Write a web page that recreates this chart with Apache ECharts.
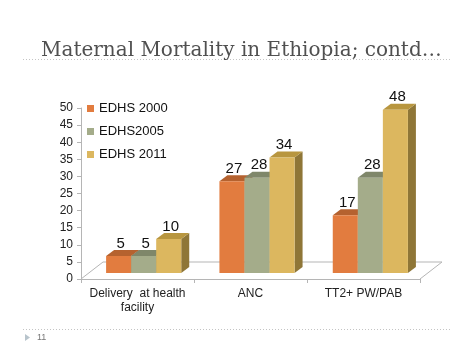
<!DOCTYPE html>
<html><head><meta charset="utf-8">
<script src="https://cdn.jsdelivr.net/npm/echarts@6/dist/echarts.min.js"></script>
<style>html,body{margin:0;padding:0;background:#fff}#c{width:474px;height:355px}</style>
</head><body><div id="c"></div>
<script>
const categories = ['Delivery  at health\nfacility', 'ANC', 'TT2+ PW/PAB'];
const seriesNames = ['EDHS 2000', 'EDHS2005', 'EDHS 2011'];
const edhs2000 = [5, 27, 17];
const edhs2005 = [5, 28, 28];
const edhs2011 = [10, 34, 48];
const yMin = 0, yMax = 50, yStep = 5;

const allValues = [edhs2000, edhs2005, edhs2011];
const frontColors = ['#E27C3F', '#A4AC8A', '#DCB75F'];
const topColors = ['#B5622F', '#7F876A', '#B8963F'];
const sideColors = ['#A8592B', '#737A5F', '#8F7637'];

const W = 474, H = 355;
const g1 = {left: 81, right: 54, top: 108, bottom: 76};
const g0 = {left: 87, right: 47, top: 103, bottom: 82};
const DX = 8, DY = -6;

function makeRender(si) {
  return function (params, api) {
    const cat = api.value(0), v = api.value(1);
    const p0 = api.coord([cat, 0]);
    const p1 = api.coord([cat, v]);
    const band = api.size([1, 0])[0];
    const bw = band * 0.221;
    const x0 = p0[0] + (si - 1.5) * bw;
    const x1 = x0 + bw;
    const yb = p0[1], yt = p1[1];
    const children = [
      {type: 'polygon', shape: {points: [[x1, yt], [x1 + DX, yt + DY], [x1 + DX, yb + DY], [x1, yb]]}, style: {fill: sideColors[si]}},
      {type: 'polygon', shape: {points: [[x0, yt], [x0 + DX, yt + DY], [x1 + DX, yt + DY], [x1, yt]]}, style: {fill: topColors[si]}},
      {type: 'rect', shape: {x: x0, y: yt, width: bw, height: yb - yt}, style: {fill: frontColors[si]}},
      {type: 'text', x: (x0 + x1) / 2 + 2, y: yt + DY + 1, style: {text: String(v), fill: '#111', font: '15px "Liberation Sans", Arial, sans-serif', align: 'center', verticalAlign: 'bottom'}}
    ];
    return {type: 'group', children};
  };
}

const series = seriesNames.map((name, si) => ({
  name, type: 'custom', xAxisIndex: 0, yAxisIndex: 0,
  itemStyle: {color: frontColors[si]},
  renderItem: makeRender(si),
  data: allValues[si].map((v, i) => [i, v]),
  z: 3
}));

const floorLeft = g1.left, floorRight = W - g1.right, floorY = H - g1.bottom;
const FDX = 22, FDY = -17;

const chart = echarts.init(document.getElementById('c'), null, {renderer: 'canvas'});
chart.setOption({
  animation: false,
  backgroundColor: '#fff',
  title: {
    text: 'Maternal Mortality in Ethiopia; contd\u2026',
    left: 36, top: 36,
    textStyle: {fontFamily: '"DejaVu Serif", serif', fontSize: 20, fontWeight: 'normal', color: '#505050'}
  },
  legend: {
    orient: 'vertical', left: 82, top: 97,
    icon: 'rect', itemWidth: 7, itemHeight: 7, itemGap: 10,
    textStyle: {fontFamily: '"Liberation Sans", Arial, sans-serif', fontSize: 13, color: '#111', lineHeight: 13},
    data: seriesNames
  },
  grid: [
    Object.assign({}, g0),
    Object.assign({}, g1)
  ],
  xAxis: [
    {type: 'category', gridIndex: 0, data: categories, show: false},
    {type: 'category', gridIndex: 1, data: categories,
      axisLine: {lineStyle: {color: '#b5b5b5'}},
      axisTick: {show: true, length: 4, lineStyle: {color: '#b5b5b5'}},
      axisLabel: {interval: 0, color: '#222', fontFamily: '"Liberation Sans", Arial, sans-serif', fontSize: 12, lineHeight: 14, margin: 8}}
  ],
  yAxis: [
    {type: 'value', gridIndex: 0, min: yMin, max: yMax, interval: yStep, show: false},
    {type: 'value', gridIndex: 1, min: yMin, max: yMax, interval: yStep,
      axisLine: {show: true, lineStyle: {color: '#b5b5b5'}},
      axisTick: {show: true, length: 4, lineStyle: {color: '#b5b5b5'}},
      splitLine: {show: false},
      axisLabel: {color: '#222', fontFamily: '"Liberation Sans", Arial, sans-serif', fontSize: 12, margin: 8}}
  ],
  series,
  graphic: [
    {type: 'polyline', z: 1, shape: {points: [[floorLeft, floorY], [floorLeft + FDX, floorY + FDY], [floorRight + FDX, floorY + FDY], [floorRight, floorY]]}, style: {stroke: '#b5b5b5', fill: null, lineWidth: 1}},
    {type: 'line', shape: {x1: 23, y1: 59.5, x2: 451, y2: 59.5}, style: {stroke: '#c4c4c4', lineDash: [1, 2], lineWidth: 1}},
    {type: 'line', shape: {x1: 23, y1: 329.5, x2: 451, y2: 329.5}, style: {stroke: '#c4c4c4', lineDash: [1, 2], lineWidth: 1}},
    {type: 'polygon', shape: {points: [[25, 334], [30, 337.5], [25, 341]]}, style: {fill: '#b8c4cc'}},
    {type: 'text', x: 37, y: 338, style: {text: '11', fill: '#777', font: '9px "Liberation Sans", Arial, sans-serif', verticalAlign: 'middle'}}
  ]
});
</script></body></html>
